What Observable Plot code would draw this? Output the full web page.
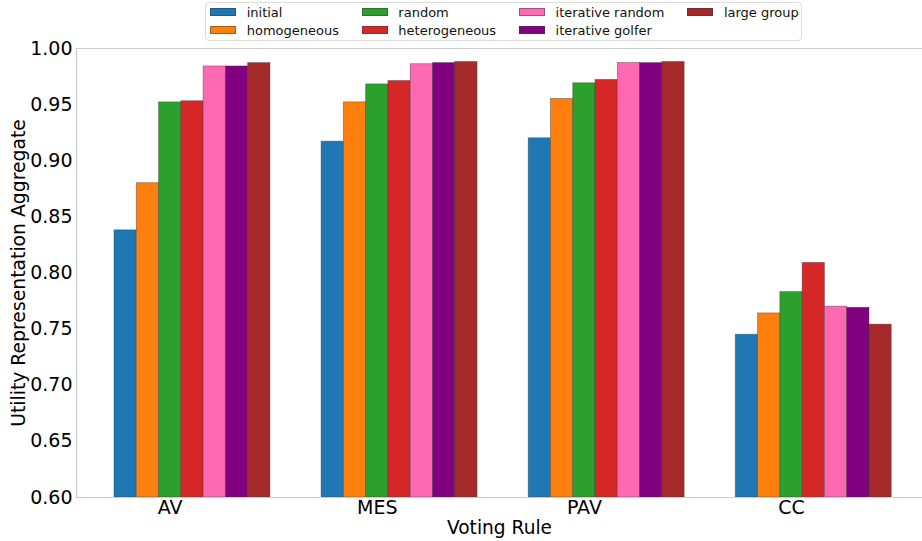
<!DOCTYPE html>
<html>
<head>
<meta charset="utf-8">
<script src="https://cdn.jsdelivr.net/npm/d3@7"></script>
<script src="https://cdn.jsdelivr.net/npm/@observablehq/plot@0.6"></script>
<style>
  html, body { margin: 0; padding: 0; background: #fff; }
  #wrap { position: relative; width: 922px; height: 541px; font-family: "DejaVu Sans", sans-serif; }
  #legend {
    position: absolute; left: 205px; top: 2px;
    box-sizing: border-box; padding: 1px 2px 2px 4px;
    background: rgba(255,255,255,0.85);
    border: 1px solid #dcdcdc; border-radius: 4px;
    display: grid; grid-template-columns: repeat(4, auto); column-gap: 22.7px; row-gap: 2px;
    font-size: 13px; color: #111; z-index: 2;
  }
  .item { display: flex; align-items: center; height: 16px; white-space: nowrap; }
  .sw { width: 26px; height: 8px; margin-right: 10.7px; box-sizing: border-box; border: 0.8px solid rgba(60,60,60,0.5); }
</style>
</head>
<body>
<div id="wrap"><div id="legend"></div><div id="chart"></div></div>
<script>
const groups = ["AV", "MES", "PAV", "CC"];
const series = ["initial", "homogeneous", "random", "heterogeneous", "iterative random", "iterative golfer", "large group"];
const colors = ["#1f77b4", "#ff7f0e", "#2ca02c", "#d62728", "#ff69b4", "#800080", "#a52a2a"];

const initial         = [0.838, 0.917, 0.920, 0.745];
const homogeneous     = [0.880, 0.952, 0.955, 0.764];
const random          = [0.952, 0.968, 0.969, 0.783];
const heterogeneous   = [0.953, 0.971, 0.972, 0.809];
const iterativeRandom = [0.984, 0.986, 0.987, 0.770];
const iterativeGolfer = [0.984, 0.987, 0.987, 0.769];
const largeGroup      = [0.987, 0.988, 0.988, 0.754];

const yTicks = [0.60, 0.65, 0.70, 0.75, 0.80, 0.85, 0.90, 0.95, 1.00];

const values = [initial, homogeneous, random, heterogeneous, iterativeRandom, iterativeGolfer, largeGroup];
const w = 0.753 / series.length;           // bar width in group units
const data = [];
series.forEach((s, si) => groups.forEach((g, gi) => {
  data.push({group: g, series: s, value: values[si][gi], x1: gi + (si - 3.5) * w, x2: gi + (si - 2.5) * w});
}));
// group tick sits under the third bar of each group
const xTicks = groups.map((g, gi) => gi - w);
const tickName = new Map(xTicks.map((t, i) => [t, groups[i]]));
const xDomain = [-0.560, 3.525];

const chart = Plot.plot({
  width: 922, height: 541,
  marginLeft: 76, marginRight: 0, marginTop: 48, marginBottom: 44,
  style: {fontFamily: "DejaVu Sans, sans-serif", fontSize: "19px", color: "#000", background: "#fff", overflow: "visible"},
  x: {domain: xDomain, ticks: xTicks, tickFormat: d => tickName.get(d), tickSize: 0, tickPadding: 3, label: null},
  y: {domain: [0.6, 1.0], ticks: yTicks, tickFormat: d3.format(".2f"), tickSize: 0, tickPadding: 4, label: null},
  color: {domain: series, range: colors},
  marks: [
    Plot.rect(data, {x1: "x1", x2: "x2", y1: 0.6, y2: "value", fill: "series", stroke: "#3a3a3a", strokeOpacity: 0.5, strokeWidth: 0.8}),
    Plot.ruleY([0.6, 1.0], {stroke: "#cccccc", strokeWidth: 1.2}),
    Plot.ruleX([xDomain[0]], {stroke: "#cccccc", strokeWidth: 1.2}),
    Plot.text(["Voting Rule"], {frameAnchor: "bottom", dy: 31, lineAnchor: "middle", textAnchor: "middle", fontSize: 18.6, fill: "#000"}),
    Plot.text(["Utility Representation Aggregate"], {frameAnchor: "left", dx: -58, rotate: -90, textAnchor: "middle", lineAnchor: "middle", fontSize: 18.8, fill: "#000"})
  ]
});
document.getElementById("chart").appendChild(chart);

const legend = document.getElementById("legend");
// matplotlib fills columns first: 2 rows x 4 columns
const cells = [];
for (let r = 0; r < 2; r++) for (let c = 0; c < 4; c++) cells.push(c * 2 + r);
cells.forEach(idx => {
  const d = document.createElement("div");
  d.className = "item";
  if (idx < series.length) {
    d.innerHTML = `<span class="sw" style="background:${colors[idx]}"></span><span>${series[idx]}</span>`;
  }
  legend.appendChild(d);
});
</script>
</body>
</html>
